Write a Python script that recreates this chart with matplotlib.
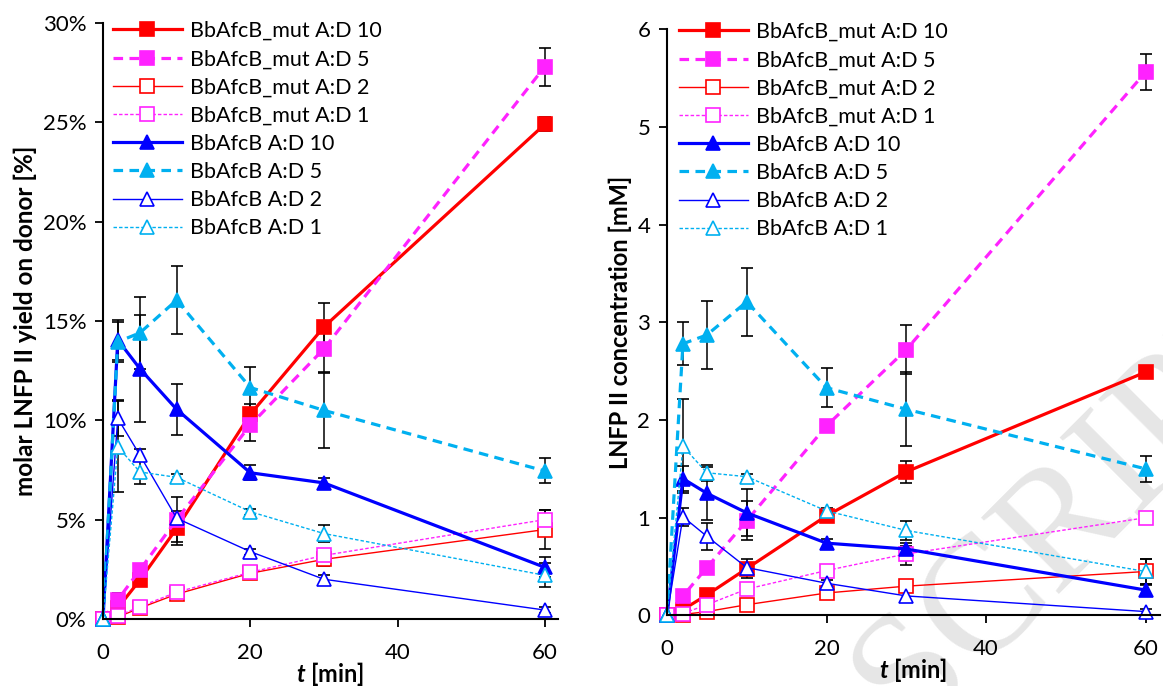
import matplotlib.pyplot as plt
from matplotlib.ticker import PercentFormatter

plt.rcParams['font.family'] = ['Lato', 'DejaVu Sans']
plt.rcParams['mathtext.fontset'] = 'custom'
plt.rcParams['mathtext.it'] = 'Lato:italic:bold'

t_min = [0, 2, 5, 10, 20, 30, 60]
labels = ['BbAfcB_mut A:D 10', 'BbAfcB_mut A:D 5', 'BbAfcB_mut A:D 2', 'BbAfcB_mut A:D 1',
          'BbAfcB A:D 10', 'BbAfcB A:D 5', 'BbAfcB A:D 2', 'BbAfcB A:D 1']

# molar yield on donor [%]
mut10_pct = [0, 0.55, 1.96, 4.56, 10.3, 14.7, 24.9]
mut5_pct = [0, 0.96, 2.47, 5.0, 9.76, 13.6, 27.8]
mut2_pct = [0, 0.1, 0.55, 1.25, 2.3, 3.0, 4.5]
mut1_pct = [0, 0.15, 0.62, 1.35, 2.35, 3.2, 5.0]
wt10_pct = [0, 14.05, 12.6, 10.55, 7.36, 6.85, 2.6]
wt5_pct = [0, 13.95, 14.4, 16.05, 11.65, 10.5, 7.45]
wt2_pct = [0, 10.1, 8.25, 5.07, 3.39, 2.0, 0.45]
wt1_pct = [0, 8.67, 7.4, 7.13, 5.4, 4.3, 2.2]

mut10_pct_err = [0, 0.3, 0.25, 0.85, 0.5, 1.2, 0.35]
mut5_pct_err = [0, 0.35, 0.3, 1.15, 0.8, 1.15, 0.95]
mut2_pct_err = [0, 0.1, 0.1, 0.15, 0.2, 0.35, 1.0]
mut1_pct_err = [0, 0.1, 0.15, 0.15, 0.2, 0.3, 0.5]
wt10_pct_err = [0, 1.0, 2.7, 1.3, 0.38, 0.25, 0.5]
wt5_pct_err = [0, 1.0, 1.8, 1.7, 1.05, 1.9, 0.63]
wt2_pct_err = [0, 0.9, 0.3, 0.2, 0.15, 0.2, 0.15]
wt1_pct_err = [0, 2.3, 0.6, 0.15, 0.15, 0.45, 0.6]

# LNFP II concentration [mM]
mut10_mM = [0, 0.06, 0.21, 0.48, 1.02, 1.47, 2.49]
mut5_mM = [0, 0.2, 0.49, 0.97, 1.94, 2.72, 5.56]
mut2_mM = [0, 0.01, 0.04, 0.11, 0.23, 0.30, 0.45]
mut1_mM = [0, 0.02, 0.11, 0.27, 0.46, 0.63, 1.0]
wt10_mM = [0, 1.40, 1.25, 1.05, 0.74, 0.68, 0.26]
wt5_mM = [0, 2.78, 2.87, 3.21, 2.33, 2.11, 1.50]
wt2_mM = [0, 1.01, 0.81, 0.49, 0.33, 0.2, 0.04]
wt1_mM = [0, 1.73, 1.46, 1.42, 1.07, 0.87, 0.45]

mut10_mM_err = [0, 0.03, 0.05, 0.1, 0.06, 0.11, 0.03]
mut5_mM_err = [0, 0.05, 0.06, 0.2, 0.05, 0.25, 0.18]
mut2_mM_err = [0, 0.01, 0.02, 0.03, 0.03, 0.05, 0.13]
mut1_mM_err = [0, 0.01, 0.03, 0.04, 0.04, 0.11, 0.05]
wt10_mM_err = [0, 0.13, 0.27, 0.24, 0.04, 0.03, 0.05]
wt5_mM_err = [0, 0.22, 0.35, 0.35, 0.2, 0.38, 0.13]
wt2_mM_err = [0, 0.09, 0.14, 0.05, 0.03, 0.04, 0.03]
wt1_mM_err = [0, 0.48, 0.08, 0.03, 0.03, 0.1, 0.13]

pct_series = [mut10_pct, mut5_pct, mut2_pct, mut1_pct, wt10_pct, wt5_pct, wt2_pct, wt1_pct]
pct_errors = [mut10_pct_err, mut5_pct_err, mut2_pct_err, mut1_pct_err,
              wt10_pct_err, wt5_pct_err, wt2_pct_err, wt1_pct_err]
mM_series = [mut10_mM, mut5_mM, mut2_mM, mut1_mM, wt10_mM, wt5_mM, wt2_mM, wt1_mM]
mM_errors = [mut10_mM_err, mut5_mM_err, mut2_mM_err, mut1_mM_err,
             wt10_mM_err, wt5_mM_err, wt2_mM_err, wt1_mM_err]

red, magenta, blue, cyan = '#FF0000', '#FF22FF', '#0000FF', '#00B0F0'
# color, marker, filled, linewidth, dash pattern
styles = [
    (red, 's', True, 2.3, None),
    (magenta, 's', True, 2.3, (3, 2)),
    (red, 's', False, 1.0, None),
    (magenta, 's', False, 1.0, (2.5, 1.5)),
    (blue, '^', True, 2.3, None),
    (cyan, '^', True, 2.3, (3, 2)),
    (blue, '^', False, 1.0, None),
    (cyan, '^', False, 1.0, (2.5, 1.5)),
]

fig = plt.figure(figsize=(11.63, 6.86), dpi=100)
ax1 = fig.add_axes([0.0886, 0.0977, 0.3912, 0.8688])
ax2 = fig.add_axes([0.5735, 0.1028, 0.4239, 0.8549])

# faint watermark of the manuscript page
fig.text(1080 / 1163, 1 - 505 / 686, 'SCRIPT', rotation=45, fontsize=120,
         family='Liberation Serif', color='#e6e6e6', ha='center', va='center', zorder=-1)


def draw(ax, series, errors):
    ax.patch.set_visible(False)
    handles = []
    for vals, errs, lab, (c, m, filled, lw, dash) in zip(series, errors, labels, styles):
        ms = 10 if filled else 9.5
        eb = ax.errorbar(t_min, vals, yerr=errs, color=c, lw=lw, marker=m, ms=ms,
                         mfc=c if filled else 'white', mec=c, mew=1.2,
                         ecolor='black', elinewidth=1.1, capsize=4, capthick=1.1,
                         label=lab, clip_on=False)
        line = eb.lines[0]
        if dash:
            line.set_dashes(dash)
        for art in list(eb.lines[1]) + list(eb.lines[2]):
            art.set_clip_on(False)
        handles.append(line)
    for s in ['top', 'right']:
        ax.spines[s].set_visible(False)
    for s in ['left', 'bottom']:
        ax.spines[s].set_linewidth(1.5)
    ax.set_xticks([0, 20, 40, 60])
    ax.tick_params(direction='out', length=6, width=1.3, labelsize=16)
    ax.tick_params(axis='x', pad=11)
    ax.tick_params(axis='y', pad=6)
    ax.set_xlabel(r'$t$ [min]', fontsize=17, fontweight='bold', labelpad=-2)
    return handles


h1 = draw(ax1, pct_series, pct_errors)
ax1.set_xlim(0, 61.8)
ax1.set_ylim(0, 30)
ax1.set_yticks(range(0, 31, 5))
ax1.yaxis.set_major_formatter(PercentFormatter(decimals=0))
ax1.set_ylabel('molar LNFP II yield on donor [%]', fontsize=17.5, fontweight='bold',
               labelpad=4)
ax1.legend(handles=h1, labels=labels, loc='upper left',
           bbox_to_anchor=(113 / 1163, 1 - 21 / 686),
           bbox_transform=fig.transFigure, frameon=False, fontsize=15.5,
           handlelength=3.2, handletextpad=0.37, labelspacing=0.38, borderpad=0,
           borderaxespad=0)

h2 = draw(ax2, mM_series, mM_errors)
ax2.set_xlim(0, 61.8)
ax2.set_ylim(0, 6)
ax2.set_yticks(range(0, 7))
ax2.set_ylabel('LNFP II concentration [mM]', fontsize=17, fontweight='bold', labelpad=4)
ax2.legend(handles=h2, labels=labels, loc='upper left',
           bbox_to_anchor=(679 / 1163, 1 - 22 / 686),
           bbox_transform=fig.transFigure, frameon=False, fontsize=15.5,
           handlelength=3.2, handletextpad=0.37, labelspacing=0.38, borderpad=0,
           borderaxespad=0)

fig.savefig('out.png', dpi=100)
